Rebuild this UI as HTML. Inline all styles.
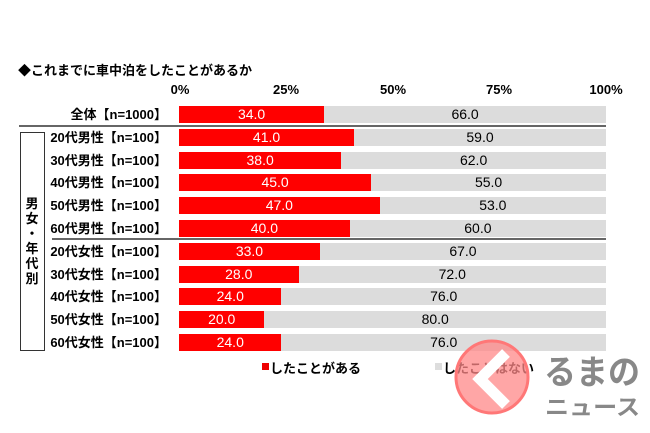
<!DOCTYPE html>
<html><head><meta charset="utf-8"><style>
body{margin:0;width:650px;height:433px;background:#fff;overflow:hidden;position:relative;font-family:"Liberation Sans","Noto Sans CJK JP",sans-serif;font-weight:bold;color:#000}
.a{position:absolute;white-space:nowrap}
.lab{position:absolute;right:483px;font-size:13px;line-height:17px}
.bar{position:absolute;height:17px;line-height:17px;font-size:14px;text-align:center;font-weight:normal}
.r{background:#f00;color:#fff;left:179px}
.g{background:#dcdcdc;color:#000}
.ax{position:absolute;top:82px;font-size:13px;transform:translateX(-50%)}
</style></head><body>
<div class="a" style="left:18px;top:60px;font-size:13px">◆これまでに車中泊をしたことがあるか</div>
<div class="ax" style="left:180px">0%</div>
<div class="ax" style="left:286px">25%</div>
<div class="ax" style="left:393px">50%</div>
<div class="ax" style="left:499px">75%</div>
<div class="ax" style="left:606px">100%</div>
<div class="a" style="left:19px;top:125px;width:587px;height:2px;background:#666"></div>
<div class="a" style="left:52px;top:238px;width:554px;height:2px;background:#666"></div>
<div class="a" style="left:20px;top:132px;width:23px;height:217px;border:1px solid #333"></div>
<div class="a" style="left:24px;top:196px;width:16px;font-size:13px;line-height:15px;white-space:normal;text-align:center">男<br>女<br>・<br>年<br>代<br>別</div>
<div id="rows"></div>
<div class="a" style="left:262px;top:363px;width:7px;height:7px;background:#e00"></div>
<div class="a" style="left:270px;top:358px;font-size:13px">したことがある</div>
<div class="a" style="left:435px;top:363px;width:7px;height:7px;background:#ddd"></div>
<div class="a" style="left:443px;top:358px;font-size:13px">したことはない</div>
<svg class="a" style="left:0;top:0" width="650" height="433">
<circle cx="492" cy="377" r="36" fill="#f88" fill-opacity="0.75" stroke="#f77" stroke-width="3"/>
<polyline points="506,353 480,379 506,405" fill="none" stroke="#fff" stroke-width="11"/>
<text x="544" y="384" font-size="34" fill="#888" font-family="Noto Sans CJK JP,sans-serif" font-weight="bold" textLength="96" lengthAdjust="spacingAndGlyphs">るまの</text>
<text x="545" y="415" font-size="22" fill="#888" font-family="Noto Sans CJK JP,sans-serif" font-weight="bold" textLength="95" lengthAdjust="spacingAndGlyphs">ニュース</text>
</svg>
<script>
var d=[["全体【n=1000】",34],["20代男性【n=100】",41],["30代男性【n=100】",38],["40代男性【n=100】",45],["50代男性【n=100】",47],["60代男性【n=100】",40],["20代女性【n=100】",33],["30代女性【n=100】",28],["40代女性【n=100】",24],["50代女性【n=100】",20],["60代女性【n=100】",24]];
var h="",s=4.27;
d.forEach(function(x,i){var t=106+i*22.8,w=x[1]*s;
h+='<div class="lab" style="top:'+t+'px">'+x[0]+'</div>';
h+='<div class="bar r" style="top:'+t+'px;width:'+w+'px">'+x[1].toFixed(1)+'</div>';
h+='<div class="bar g" style="top:'+t+'px;left:'+(179+w)+'px;width:'+(427-w)+'px">'+(100-x[1]).toFixed(1)+'</div>';});
document.getElementById("rows").innerHTML=h;
</script>
</body></html>
